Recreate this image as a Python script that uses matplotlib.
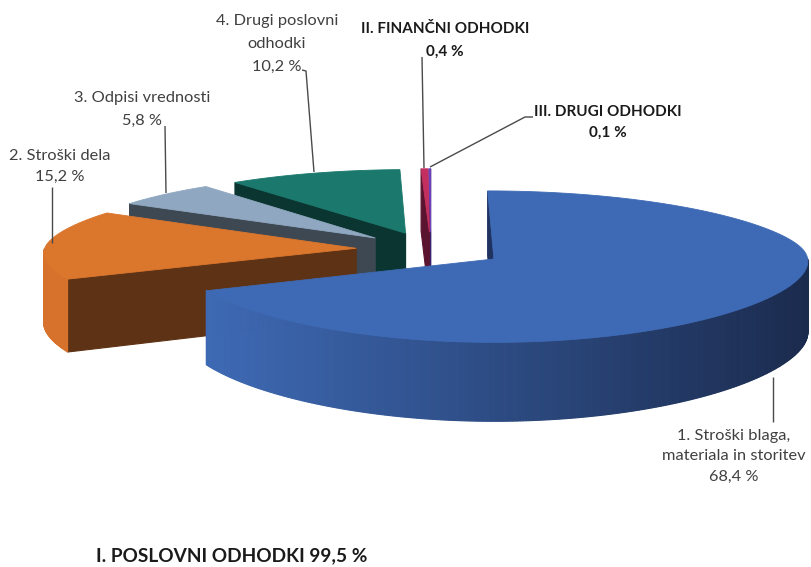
import numpy as np
import matplotlib
matplotlib.use("Agg")
import matplotlib.pyplot as plt
from matplotlib.patches import Polygon

# ---------------- data ----------------
categories = ["1. Stroški blaga,\nmateriala in storitev", "2. Stroški dela",
              "3. Odpisi vrednosti", "4. Drugi poslovni\nodhodki",
              "II. FINANČNI ODHODKI", "III. DRUGI ODHODKI"]
values = [68.4, 15.2, 5.8, 10.2, 0.4, 0.1]
value_labels = ["68,4 %", "15,2 %", "5,8 %", "10,2 %", "0,4 %", "0,1 %"]
bold_label = [False, False, False, False, True, True]
summary_text = "I. POSLOVNI ODHODKI 99,5 %"

top_colors = ["#3E6AB5", "#DB762D", "#8FA7C0", "#1A786C", "#C3305F", "#6F42C1"]
side_colors = ["#1F3260", "#5E3214", "#3D4853", "#0A3530", "#5A1430", "#3A2070"]
wall_light = [(62, 106, 181), (214, 114, 44), (120, 140, 160), (20, 100, 90), (150, 35, 70), (90, 50, 160)]
wall_dark = [(27, 43, 78), (190, 100, 38), (100, 120, 140), (15, 80, 70), (120, 30, 60), (70, 40, 130)]

# ---------------- projection (pixel space) ----------------
X0, Y0 = 430.8, 249.3
A, B = 316.0, 73.0
KX, KY = 0.135, 0.10
H = 70.0
EXPLODE = 0.24


def proj(X, Y, Z=0.0):
    sp = (Y + np.sqrt(Y * Y + 0.04)) / 2.0
    gx = 1.0 / (1.0 + KX * sp)
    d = 1.0 + KY * Y
    return X0 + A * X * gx, Y0 - B * Y / d + H * Z / d


def signed_area(pts):
    pts = np.asarray(pts)
    x, y = pts[:, 0], pts[:, 1]
    return 0.5 * np.sum(x * np.roll(y, -1) - np.roll(x, -1) * y)


fig = plt.figure(figsize=(8.11, 5.67), dpi=100)
ax = fig.add_axes([0, 0, 1, 1])
ax.set_xlim(0, 811)
ax.set_ylim(567, 0)
ax.axis("off")

total = float(sum(values))
slices = []
cum = 0.0
for i, v in enumerate(values):
    t2 = 90.0 - 360.0 * cum / total
    t1 = t2 - 360.0 * v / total
    cum += v
    mid = np.radians((t1 + t2) / 2)
    cx, cy = EXPLODE * np.cos(mid), EXPLODE * np.sin(mid)
    slices.append((i, t1, t2, cx, cy))

# painter's order: far slices first
order = sorted(slices, key=lambda s: -s[4])


def lerp(c1, c2, t):
    return tuple((a + (b - a) * t) / 255.0 for a, b in zip(c1, c2))


for (i, t1, t2, cx, cy) in order:
    n = max(3, int((t2 - t1) * 2))
    th = np.radians(np.linspace(t1, t2, n))
    ox = cx + np.cos(th)
    oy = cy + np.sin(th)
    top = [proj(x, y, 0) for x, y in zip(ox, oy)]
    bot = [proj(x, y, 1) for x, y in zip(ox, oy)]
    apex_t = proj(cx, cy, 0)
    apex_b = proj(cx, cy, 1)

    # cut faces
    f2 = [apex_t, top[-1], bot[-1], apex_b]
    if signed_area(f2) < 0:
        ax.add_patch(Polygon(f2, closed=True, fc=side_colors[i], ec=side_colors[i], lw=0.8))
    f1 = [top[0], apex_t, apex_b, bot[0]]
    if signed_area(f1) < 0:
        ax.add_patch(Polygon(f1, closed=True, fc=side_colors[i], ec=side_colors[i], lw=0.8))

    # outer wall
    for k in range(n - 1):
        m = (th[k] + th[k + 1]) / 2
        if np.sin(m) < 0:
            q = [top[k], top[k + 1], bot[k + 1], bot[k]]
            xm = (top[k][0] + top[k + 1][0]) / 2
            t = np.clip((xm - 205) / (808 - 205), 0, 1)
            c = lerp(wall_light[i], wall_dark[i], t)
            ax.add_patch(Polygon(q, closed=True, fc=c, ec=c, lw=0.8))

    # top face
    ax.add_patch(Polygon([apex_t] + top, closed=True, fc=top_colors[i],
                         ec=top_colors[i], lw=0.6))

# ---------------- labels ----------------
FONT = ["Lato", "DejaVu Sans"]
label_pos = [(734, [436, 456.5, 477]), (60, [156, 177]), (142, [98, 121]),
             (277, [21, 44, 67]), (445, [29, 52]), (608, [112, 133])]
for i, (lx, lys) in enumerate(label_pos):
    lines = categories[i].split("\n") + [value_labels[i]]
    for txt, ly in zip(lines, lys):
        ax.text(lx, ly, txt, ha="center", va="center",
                fontsize=11 if bold_label[i] else 11.8,
                family=FONT, color="#404040" if not bold_label[i] else "#1a1a1a",
                fontweight="bold" if bold_label[i] else "normal")

ax.text(232, 556, summary_text, ha="center", va="center", fontsize=13.7,
        family=FONT, fontweight="bold", color="#1a1a1a")

leaders = [
    [(773, 377), (773, 422)],
    [(52, 187), (52, 243)],
    [(165, 126), (166, 193)],
    [(302, 70), (306, 71), (314, 172)],
    [(422, 57), (424, 168)],
    [(533, 117), (525, 117), (430, 167)],
]
for pts in leaders:
    xs, ys = zip(*pts)
    ax.plot(xs, ys, color="#4a4a4a", lw=1.0, solid_capstyle="butt")

fig.savefig("out.png", dpi=100)
